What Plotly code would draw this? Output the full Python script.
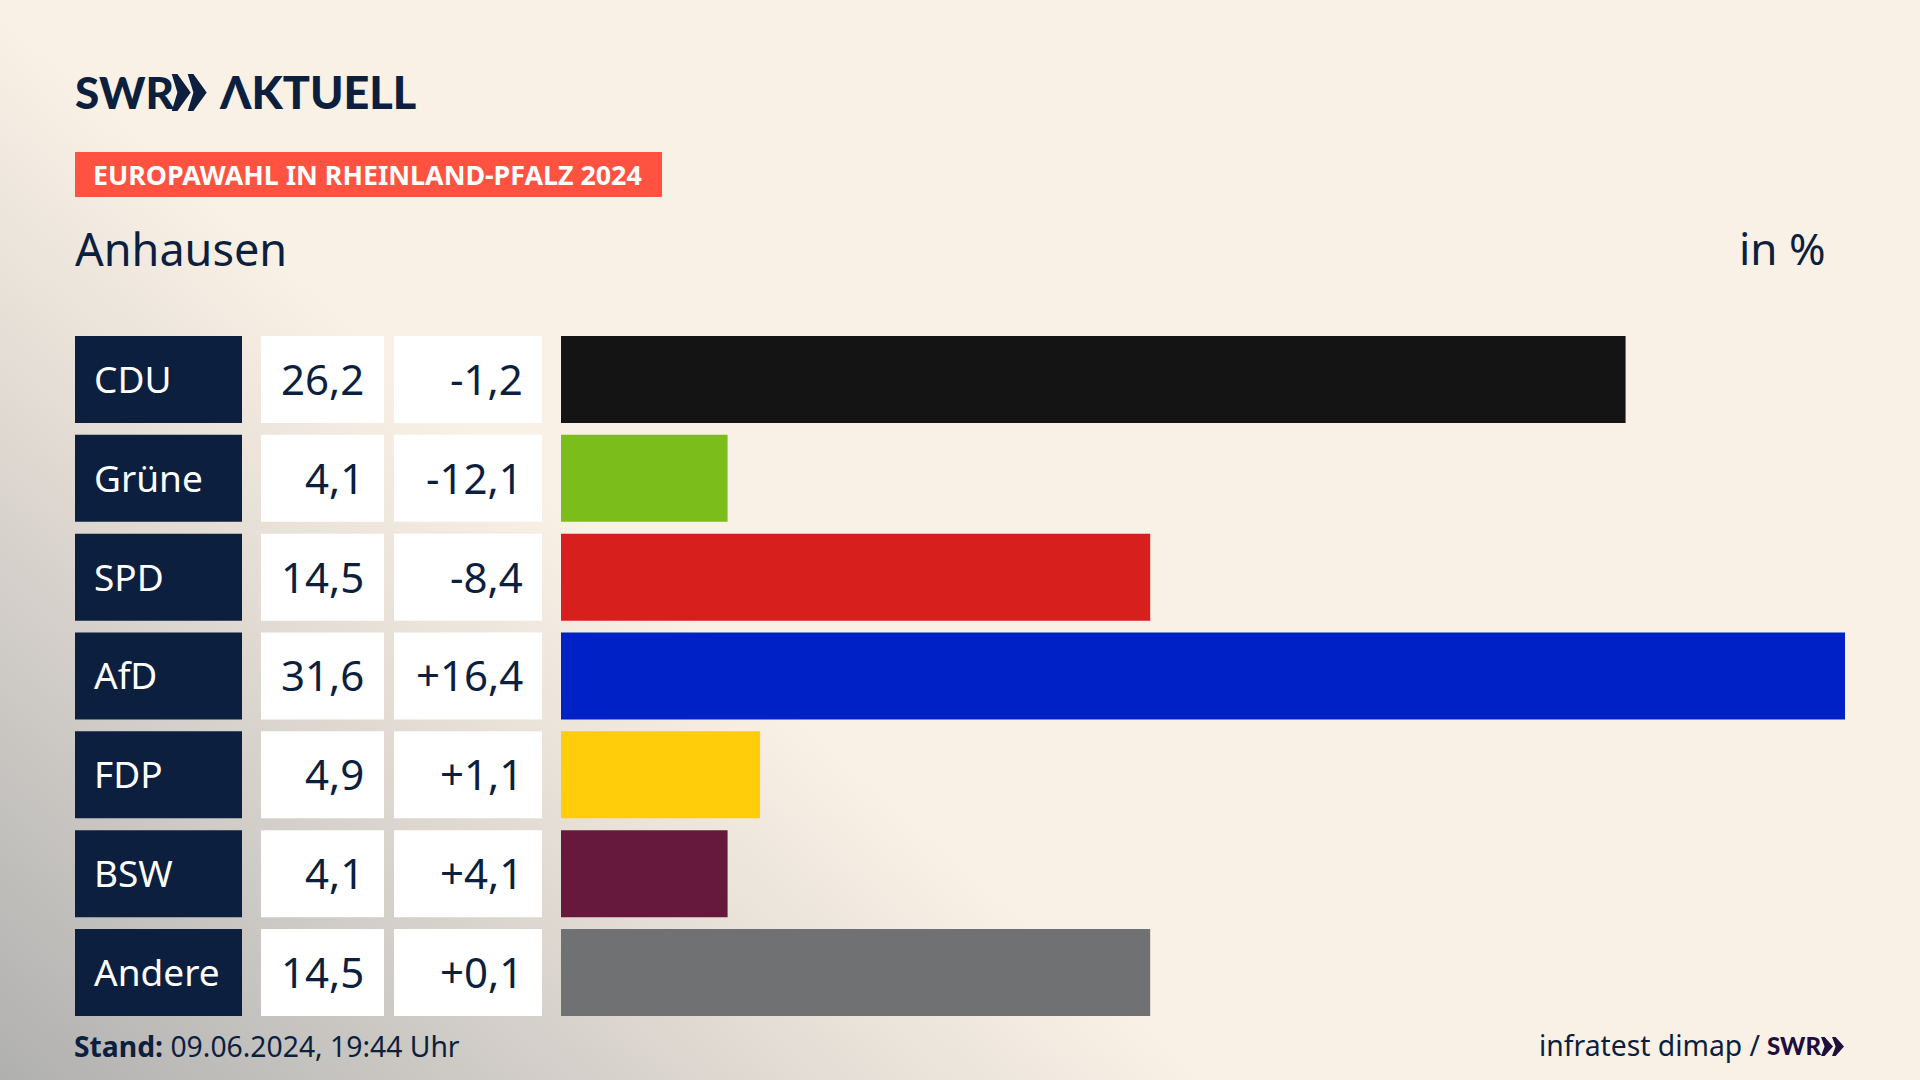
import urllib.parse
import plotly.graph_objects as go

parties = ["CDU", "Grüne", "SPD", "AfD", "FDP", "BSW", "Andere"]
shares = [26.2, 4.1, 14.5, 31.6, 4.9, 4.1, 14.5]
changes = ["-1,2", "-12,1", "-8,4", "+16,4", "+1,1", "+4,1", "+0,1"]
colors = ["#141414", "#7BBE1B", "#D7201E", "#0021C6", "#FFCD09", "#66193D", "#6F7173"]

W, H = 1920, 1080
NAVY = "#0C1F3F"
FONT = "Noto Sans"
top_row, pitch, row_h = 336, 98.83, 87
pad = (pitch - row_h) / 2


def fx(px):
    return px / W


def fy(px):
    return 1 - px / H


svg = f"""<svg xmlns='http://www.w3.org/2000/svg' width='{W}' height='{H}'>
<defs>
<linearGradient id='g' gradientUnits='userSpaceOnUse' x1='0' y1='{H}' x2='533' y2='477'>
<stop offset='0' stop-color='#B0B0AF'/>
<stop offset='0.25' stop-color='#C3C1BE'/>
<stop offset='0.5' stop-color='#D6D1CB'/>
<stop offset='0.75' stop-color='#E9E2D9'/>
<stop offset='1' stop-color='#FAF1E6'/>
</linearGradient>
</defs>
<rect width='{W}' height='{H}' fill='url(#g)'/>
</svg>"""
bg = "data:image/svg+xml," + urllib.parse.quote(svg)

fig = go.Figure()
fig.add_trace(go.Bar(y=parties, x=shares, orientation="h", marker=dict(color=colors, line_width=0),
                     xaxis="x", yaxis="y", hoverinfo="x+y", showlegend=False))
for ax, col in (("x2", NAVY), ("x3", "#FFFFFF"), ("x4", "#FFFFFF")):
    fig.add_trace(go.Bar(y=parties, x=[1] * len(parties), orientation="h",
                         marker=dict(color=col, line_width=0), xaxis=ax, yaxis="y",
                         hoverinfo="skip", showlegend=False))

ann = []
for name, share, change in zip(parties, shares, changes):
    ann.append(dict(x=0, y=name, xref="x2", yref="y", xanchor="left", xshift=17, yshift=1, text=name,
                    font=dict(color="#FFFFFF", size=37, family=FONT), showarrow=False))
    ann.append(dict(x=1, y=name, xref="x3", yref="y", xanchor="right", xshift=-18, yshift=1,
                    text=f"{share:.1f}".replace(".", ","),
                    font=dict(color=NAVY, size=42, family=FONT), showarrow=False))
    ann.append(dict(x=1, y=name, xref="x4", yref="y", xanchor="right", xshift=-17, yshift=1, text=change,
                    font=dict(color=NAVY, size=42, family=FONT), showarrow=False))


def label(x, y, text, size, color=NAVY, anchor="left", family=FONT, weight=None):
    font = dict(color=color, size=size, family=family)
    if weight:
        font["weight"] = weight
    ann.append(dict(x=fx(x), y=fy(y), xref="paper", yref="paper", xanchor=anchor, yanchor="middle",
                    text=text, showarrow=False, font=font, borderpad=0, borderwidth=0))


LOGO = "Lato"
label(75, 92, "SWR", 44, family=LOGO, weight=900)
label(219, 92, "ΛKTUELL", 45, family=LOGO, weight=900)
label(93, 175, "<b>EUROPAWAHL IN RHEINLAND-PFALZ 2024</b>", 26.8, color="#FFFFFF")
label(75, 248, "Anhausen", 45)
label(1826, 248, "in %", 44, anchor="right")
label(74, 1046, "<b>Stand:</b> 09.06.2024, 19:44 Uhr", 28.3)
label(1761, 1045, "infratest dimap /", 28.3, anchor="right")
label(1767, 1045, "SWR", 24, color="#1E0F3C", family=LOGO, weight=900)


def chevron(x, top, w, h, color):
    pts = [(x, top), (x + w * 0.3, top), (x + w, top + h / 2), (x + w * 0.3, top + h), (x, top + h),
           (x + w * 0.3, top + h / 2)]
    path = "M " + " L ".join(f"{fx(a):.5f} {fy(b):.5f}" for a, b in pts) + " Z"
    return dict(type="path", xref="paper", yref="paper", path=path, fillcolor=color, line_width=0)


shapes = [
    dict(type="rect", xref="paper", yref="paper", x0=fx(75), x1=fx(662), y0=fy(197), y1=fy(152),
         fillcolor="#FF5240", line_width=0, layer="below"),
    chevron(171.7, 74, 19, 37, NAVY),
    chevron(187.7, 74, 19, 37, NAVY),
    chevron(1821, 1037, 12, 19, "#1E0F3C"),
    chevron(1832, 1037, 12, 19, "#1E0F3C"),
]


def xax(x0, x1, rng):
    return dict(domain=[fx(x0), fx(x1)], range=rng, visible=False, fixedrange=True, anchor="y")


fig.update_layout(
    width=W, height=H, margin=dict(l=0, r=0, t=0, b=0), autosize=False,
    paper_bgcolor="#FAF1E6", plot_bgcolor="rgba(0,0,0,0)",
    barmode="overlay", bargap=1 - row_h / pitch,
    font=dict(family=FONT, color=NAVY),
    xaxis=xax(561, 1845, [0, 31.6]),
    xaxis2=xax(75, 242, [0, 1]),
    xaxis3=xax(261, 384, [0, 1]),
    xaxis4=xax(394, 542, [0, 1]),
    yaxis=dict(domain=[fy(top_row + 7 * pitch - pad), fy(top_row - pad)], visible=False,
               categoryorder="array", categoryarray=parties, autorange="reversed", fixedrange=True),
    images=[dict(source=bg, xref="paper", yref="paper", x=0, y=1, sizex=1, sizey=1,
                 xanchor="left", yanchor="top", sizing="stretch", layer="below")],
    annotations=ann, shapes=shapes, showlegend=False,
)

fig.write_html("out.html", config=dict(displayModeBar=False),
               post_script="document.body.style.margin='0';document.body.style.overflow='hidden';")
